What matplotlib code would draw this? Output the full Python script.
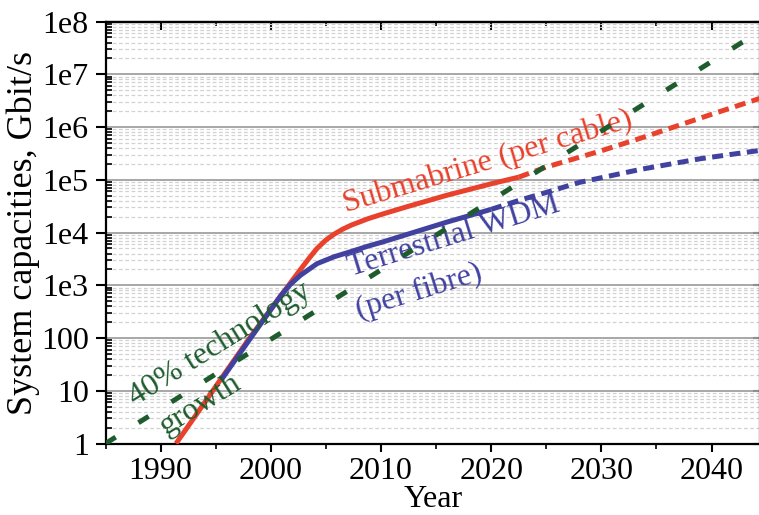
import matplotlib
matplotlib.use('Agg')
import matplotlib.pyplot as plt
from matplotlib.ticker import MultipleLocator, LogLocator, NullLocator, NullFormatter

plt.rcParams['font.family'] = ['Liberation Serif', 'DejaVu Serif']

RED = '#e8412c'
BLUE = '#4141a0'
GREEN = '#1e5c2e'

# submarine systems, capacity per cable (Gbit/s)
sub_years = [1991.4, 1993, 1995.5, 1998, 2000.9, 2002.7, 2003.45, 2004.2, 2005,
             2005.75, 2006.5, 2007.3, 2008.8, 2010.3, 2012.4, 2016, 2020.3, 2022.5]
sub_cap = [1, 3, 17, 95, 630, 2000, 3200, 5000, 7200,
           9300, 11500, 13800, 18200, 22900, 31000, 51000, 87000, 112000]
sub_proj_years = [2022.5, 2025, 2030, 2033.6, 2040, 2044.5]
sub_proj_cap = [112000, 174000, 355000, 617000, 1740000, 3550000]

# terrestrial WDM, capacity per fibre (Gbit/s)
wdm_years = [1995.5, 1998, 2000.9, 2001.8, 2002.7, 2004.2, 2005.75, 2007.3,
             2008.8, 2010.3, 2012, 2016, 2020]
wdm_cap = [16, 89, 631, 1050, 1550, 2570, 3470, 4370,
           5500, 6760, 8710, 15800, 27500]
wdm_proj_years = [2020, 2022.7, 2025, 2028, 2033.6, 2039, 2044.5]
wdm_proj_cap = [27500, 41700, 57500, 89100, 158000, 251000, 363000]

# reference growth trend
growth_years = [1985, 2044.5]
growth_cap = [1, 6.8e7]

xticks = [1990, 2000, 2010, 2020, 2030, 2040]
yticks = [1, 10, 100, 1e3, 1e4, 1e5, 1e6, 1e7, 1e8]
ytick_labels = ['1', '10', '100', '1e3', '1e4', '1e5', '1e6', '1e7', '1e8']

fig = plt.figure(figsize=(7.59, 5.15), dpi=100)
ax = fig.add_axes([0.139, 0.1388, 0.8623, 0.8194])
ax.set_yscale('log')
ax.set_xlim(1985, 2044.4)
ax.set_ylim(1, 1e8)

lw = 3.6
ax.plot(sub_years, sub_cap, color=RED, lw=lw, solid_capstyle='butt',
        solid_joinstyle='round', zorder=3)
ax.plot(sub_proj_years, sub_proj_cap, color=RED, lw=lw, dashes=(2.2, 1.3), zorder=3)
ax.plot(wdm_years, wdm_cap, color=BLUE, lw=lw, solid_capstyle='butt',
        solid_joinstyle='round', zorder=4)
ax.plot(wdm_proj_years, wdm_proj_cap, color=BLUE, lw=lw, dashes=(2.2, 1.3), zorder=4)
ax.plot(growth_years, growth_cap, color=GREEN, lw=lw, dashes=(2.4, 5.4), zorder=6)

# annotations along the curves
txt = dict(fontsize=23, rotation_mode='anchor', ha='left', va='baseline', zorder=5)
ax.text(2006.8, 2.4e4, 'Submabrine (per cable)', color=RED, rotation=16.6, **txt)
ax.text(2007.3, 1480, 'Terrestrial WDM', color=BLUE, rotation=17.2, **txt)
ax.text(2008.0, 240, '(per fibre)', color=BLUE, rotation=17.2, **txt)
ax.text(1987.7, 5.2, '40% technology', color=GREEN, rotation=32, **txt)
ax.text(1990.5, 1.45, 'growth', color=GREEN, rotation=32, **txt)

# grid
ax.yaxis.set_major_locator(LogLocator(base=10, numticks=20))
ax.yaxis.set_minor_locator(LogLocator(base=10, subs=range(2, 10), numticks=100))
ax.set_yticks(yticks)
ax.set_yticklabels(ytick_labels)
ax.yaxis.set_minor_formatter(NullFormatter())
ax.grid(axis='y', which='major', color='#a0a0a0', lw=1.3, zorder=0)
ax.grid(axis='y', which='minor', color='#d2d2d2', lw=0.9, ls=(0, (3, 2)), zorder=0)
ax.set_axisbelow(True)

ax.set_xticks(xticks)
ax.xaxis.set_minor_locator(MultipleLocator(5))

for s in ax.spines.values():
    s.set_linewidth(1.6)

ax.tick_params(axis='x', which='major', direction='out', length=6, width=1.5,
               labelsize=23, pad=4, top=False)
ax.tick_params(axis='x', which='minor', direction='out', length=3.5, width=1.2, top=False)
ax.tick_params(axis='y', which='major', direction='out', length=7, width=1.5,
               labelsize=23, pad=5, right=False)
ax.tick_params(axis='y', which='minor', direction='in', length=4, width=1.2, right=False)

top = ax.secondary_xaxis('top')
top.set_xticks(xticks)
top.xaxis.set_minor_locator(MultipleLocator(5))
top.tick_params(which='major', direction='in', length=6, width=1.5, labeltop=False)
top.tick_params(which='minor', direction='in', length=3, width=1.2)
top.spines['top'].set_linewidth(1.6)

right = ax.secondary_yaxis('right')
right.set_yticks(yticks)
right.yaxis.set_minor_locator(NullLocator())
right.tick_params(which='major', direction='in', length=5, width=1.5, labelright=False)

ax.set_xlabel('Year', fontsize=23, labelpad=-1)
ax.set_ylabel('System capacities, Gbit/s', fontsize=26, labelpad=1)

fig.savefig('out.png', dpi=100)
